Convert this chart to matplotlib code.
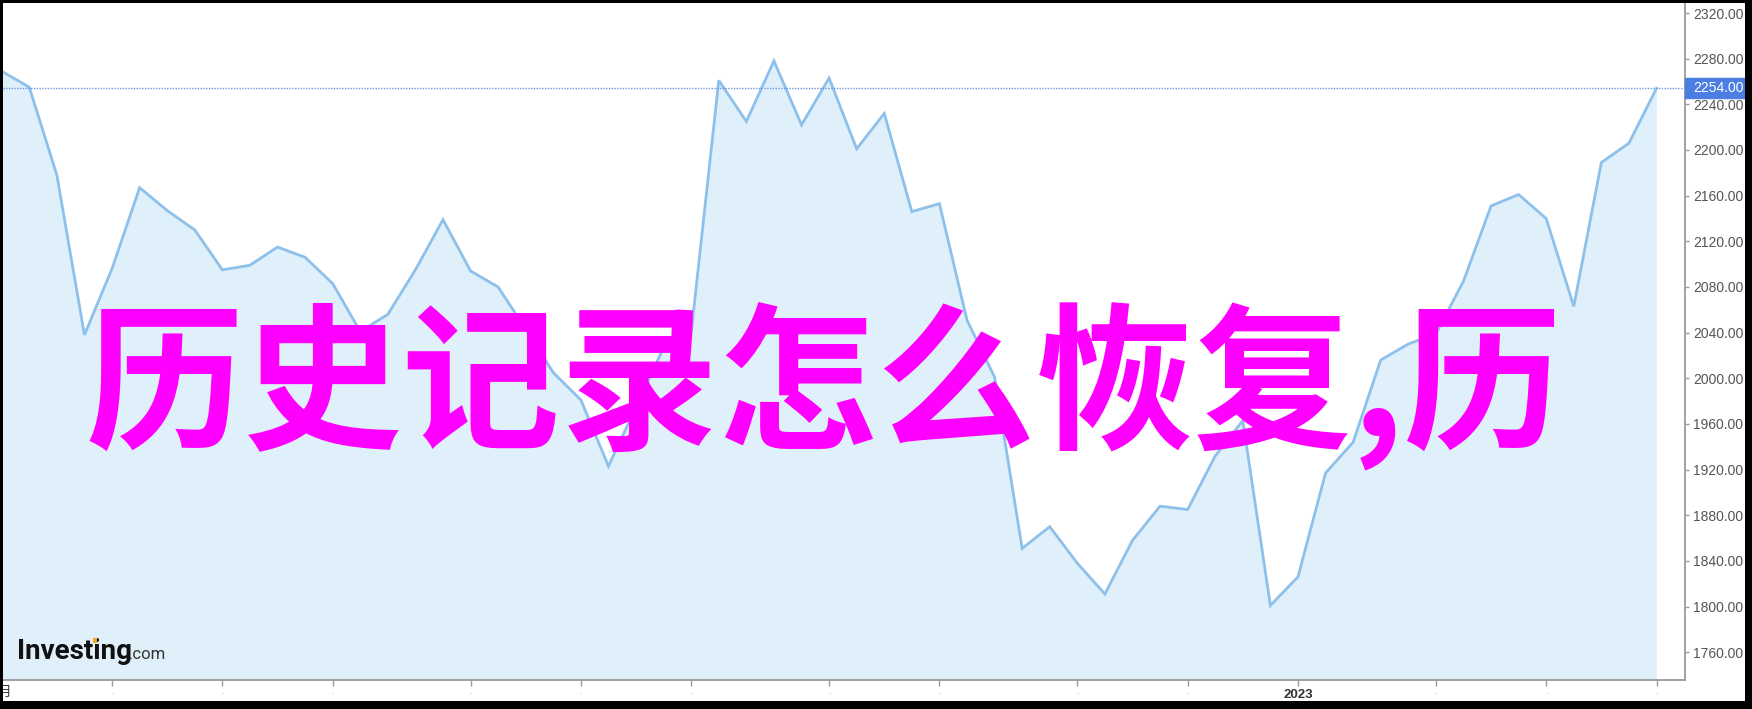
import matplotlib
matplotlib.use('Agg')
import matplotlib.pyplot as plt
import matplotlib.transforms as mtransforms
from matplotlib.patches import Rectangle
import pandas as pd

plt.rcParams['font.family'] = ['Liberation Sans', 'DejaVu Sans']

W, H = 1752, 709

# weekly closes
weeks = pd.date_range('2022-02-07', periods=61, freq='W-MON')
prices = [2269, 2255, 2178, 2038, 2096, 2167, 2147, 2130, 2095, 2099,
          2115, 2106, 2083, 2041, 2056, 2095, 2139, 2094, 2080, 2043,
          2005, 1981, 1923, 1975, 2027, 2040, 2261, 2225, 2278, 2222,
          2263, 2201, 2232, 2146, 2153, 2051, 2001, 1851, 1870, 1838,
          1811, 1858, 1888, 1885, 1932, 1963, 1801, 1826, 1917, 1944,
          2016, 2030, 2039, 2085, 2151, 2161, 2140, 2063, 2189, 2206,
          2254]
last_price = 2254.00
y_ticks = [1760, 1800, 1840, 1880, 1920, 1960, 2000, 2040, 2080,
           2120, 2160, 2200, 2240, 2280, 2320]
title = '历史记录怎么恢复,历'
first_label = '2月'
year_label = '2023'

x = list(range(len(prices)))
# first week of every month gets a tick
month_ticks = [i for i in range(1, len(weeks)) if weeks[i].month != weeks[i - 1].month]
month_labels = [year_label if weeks[i].month == 1 else '.' for i in month_ticks]

fig = plt.figure(figsize=(W / 100, H / 100), dpi=100, facecolor='white')

ax = fig.add_axes([0, 29 / H, 1685 / W, 680 / H])
step = 27.58
ax.set_xlim(-1.7 / step, (1685 - 1.7) / step)
ymin, ymax = 1735.7, 2331.4
ax.set_ylim(ymin, ymax)

ax.fill_between(x, prices, ymin, color='#e0f0fa', lw=0, zorder=1)
ax.plot(x, prices, color='#8ec0ec', lw=2, zorder=2, solid_joinstyle='miter')
ax.axhline(last_price, color='#6f96e6', lw=1, ls=(0, (1, 1)), zorder=3)

for side in ['left', 'top']:
    ax.spines[side].set_visible(False)
for side in ['right', 'bottom']:
    ax.spines[side].set_color('#9a9a9a')
    ax.spines[side].set_linewidth(1.3)

ax.yaxis.tick_right()
ax.set_yticks(y_ticks)
ax.set_yticklabels([f'{v:.2f}' for v in y_ticks])
ax.tick_params(axis='y', direction='out', length=3, width=1, color='#9a9a9a',
               labelsize=10, labelcolor='#555555', pad=3)

ax.set_xticks(month_ticks)
ax.set_xticklabels(month_labels)
ax.tick_params(axis='x', direction='out', length=4.5, width=1, color='#9a9a9a',
               labelsize=6, labelcolor='#999999', pad=2)
for lab in ax.get_xticklabels():
    if lab.get_text() == year_label:
        lab.set_fontsize(9.5)
        lab.set_fontweight('bold')
        lab.set_color('#333333')

# clipped month label at the left edge
ax.annotate(first_label, xy=(0, 0), xycoords=('data', 'axes fraction'),
            xytext=(0, -4), textcoords='offset points', ha='center', va='top',
            fontsize=9.5, color='#333333', annotation_clip=False,
            family=['Noto Sans CJK SC', 'DejaVu Sans'])

# last price marker on the right axis
tr = mtransforms.blended_transform_factory(ax.transAxes, ax.transData)
half = 10 / 1.1416
ax.add_patch(Rectangle((1.0, last_price - half), (1750 - 1685) / 1685, 2 * half,
                       transform=tr, color='#4a7ee0', clip_on=False, zorder=5))
ax.text(1.0 + 8 / 1685, last_price, f'{last_price:.2f}', transform=tr,
        color='white', fontsize=10, ha='left', va='center', zorder=6)

# logo
fig.text(17 / W, 1 - 659 / H, 'Investing', fontsize=20, fontweight='bold',
         color='#111111', family=['Roboto', 'Liberation Sans'])
fig.text(129 / W, 1 - 659 / H, '.com', fontsize=12, color='#333333',
         family=['Roboto', 'Liberation Sans'])
fig.add_artist(Rectangle((93 / W, 1 - 643 / H), 4 / W, 5 / H, transform=fig.transFigure,
                         color='#f5a623', lw=0, zorder=4))

# big magenta overlay text
fig.text(824 / W, 1 - 437 / H, title, fontsize=114, color='#ff00ff',
         fontweight='bold', ha='center', va='baseline',
         family=['Noto Sans CJK SC', 'DejaVu Sans'])

# black frame around the picture
for (bx, by, bw, bh) in [(0, 0, 3, H), (0, H - 3, W, 3), (W - 7, 0, 7, H), (0, 0, W, 8)]:
    fig.add_artist(Rectangle((bx / W, by / H), bw / W, bh / H, transform=fig.transFigure,
                             color='black', lw=0, zorder=20))

fig.savefig('out.png', dpi=100, facecolor='white')
